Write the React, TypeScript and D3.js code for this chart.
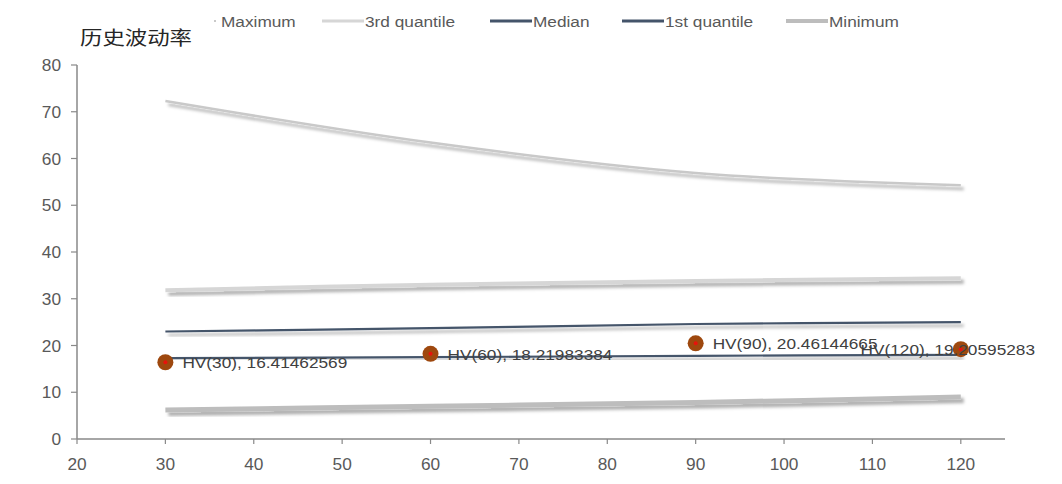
import React from "react";
import * as d3 from "d3";

const periods = [30, 60, 90, 120];
const maximum = [72.3, 63.4, 56.9, 54.3];
const thirdQuantile = [31.8, 33.0, 33.8, 34.4];
const median = [23.0, 23.7, 24.6, 25.0];
const firstQuantile = [17.3, 17.5, 17.8, 18.0];
const minimum = [6.2, 7.0, 7.8, 9.0];
const hvLabels = ["HV(30)", "HV(60)", "HV(90)", "HV(120)"];
const hvValues = [16.41462569, 18.21983384, 20.46144665, 19.20595283];
const xTicks = [20, 30, 40, 50, 60, 70, 80, 90, 100, 110, 120];
const yTicks = [0, 10, 20, 30, 40, 50, 60, 70, 80];
const seriesNames = ["Maximum", "3rd quantile", "Median", "1st quantile", "Minimum"];
const title = "历史波动率";

const W = 1062;
const H = 484;
const SX = 1.15;
const FONT = "'Liberation Sans', Arial, sans-serif";
const TXT = "#595959";

const styles: Record<string, { color: string; width: number }> = {
  "Maximum": { color: "#C9C9C9", width: 2.5 },
  "3rd quantile": { color: "#D6D6D6", width: 4 },
  "Median": { color: "#44546A", width: 2.2 },
  "1st quantile": { color: "#44546A", width: 2.2 },
  "Minimum": { color: "#BDBDBD", width: 5 },
};

function ST({ x, y, children, anchor = "start", size = 15, fill = TXT, family = FONT, sx = SX, ls = 0 }: any) {
  return (
    <text
      transform={`translate(${x},${y}) scale(${sx},1)`}
      textAnchor={anchor}
      fontSize={size}
      fill={fill}
      fontFamily={family}
      letterSpacing={ls}
    >
      {children}
    </text>
  );
}

export default function App() {
  const x = d3.scaleLinear().domain([20, 125]).range([77, 1005]);
  const y = d3.scaleLinear().domain([0, 80]).range([439, 65]);
  const line = d3
    .line<number>()
    .x((_, i) => x(periods[i]))
    .y((d) => y(d))
    .curve(d3.curveCatmullRom.alpha(0.5));

  const seriesData = [maximum, thirdQuantile, median, firstQuantile, minimum];

  const legendX = [214, 322, 490, 622, 786];
  const legendLen = [2, 42, 42, 42, 42];

  return (
    <svg
      width={W}
      height={H}
      style={{ position: "absolute", left: 0, top: 0, display: "block", background: "#fff" }}
    >
      <defs>
        <filter id="sh" x="-5%" y="-50%" width="110%" height="200%">
          <feDropShadow dx="3" dy="3.5" stdDeviation="1.8" floodColor="#000" floodOpacity="0.32" />
        </filter>
      </defs>

      {/* title */}
      <ST x={80} y={45} size={19} sx={1.18} fill="#262626" family="'Noto Sans CJK SC', sans-serif">
        {title}
      </ST>

      {/* legend */}
      {seriesNames.map((n, i) => (
        <g key={n}>
          <line
            x1={legendX[i]}
            x2={legendX[i] + legendLen[i]}
            y1={21}
            y2={21}
            stroke={styles[n].color}
            strokeWidth={i === 0 ? 2 : i === 4 ? 4 : 3.2}
          />
          <ST x={legendX[i] + legendLen[i] + (i === 0 ? 5 : 1)} y={26.5}>
            {n}
          </ST>
        </g>
      ))}

      {/* axes */}
      <line x1={77} x2={77} y1={y(80)} y2={y(0)} stroke="#898989" strokeWidth={1.5} />
      <line x1={77} x2={1005} y1={y(0)} y2={y(0)} stroke="#898989" strokeWidth={1.5} />
      {yTicks.map((t) => (
        <g key={"y" + t}>
          <line x1={71} x2={77} y1={y(t)} y2={y(t)} stroke="#898989" strokeWidth={1.2} />
          <ST x={61} y={y(t) + 6} anchor="end" size={16} sx={1.08}>
            {t}
          </ST>
        </g>
      ))}
      {xTicks.map((t) => (
        <g key={"x" + t}>
          <line x1={x(t)} x2={x(t)} y1={y(0)} y2={y(0) + 5} stroke="#898989" strokeWidth={1.2} />
          <ST x={x(t)} y={470} anchor="middle" size={16} sx={1.08}>
            {t}
          </ST>
        </g>
      ))}

      {/* series */}
      {seriesData.map((s, i) => (
        <path
          key={seriesNames[i]}
          d={line(s) || ""}
          fill="none"
          stroke={styles[seriesNames[i]].color}
          strokeWidth={styles[seriesNames[i]].width}
          filter="url(#sh)"
        />
      ))}

      {/* HV points */}
      {hvValues.map((v, i) => {
        const cx = x(periods[i]);
        const cy = y(v);
        const label = `${hvLabels[i]}, ${v}`;
        const last = i === hvValues.length - 1;
        return (
          <g key={hvLabels[i]}>
            <circle cx={cx} cy={cy} r={8} fill="#9E480E" />
            <circle cx={cx} cy={cy} r={2} fill="#E8120C" />
            <ST x={last ? 1035 : cx + 17} y={cy + 6} anchor={last ? "end" : "start"} fill="#404040">
              {label}
            </ST>
          </g>
        );
      })}
    </svg>
  );
}
